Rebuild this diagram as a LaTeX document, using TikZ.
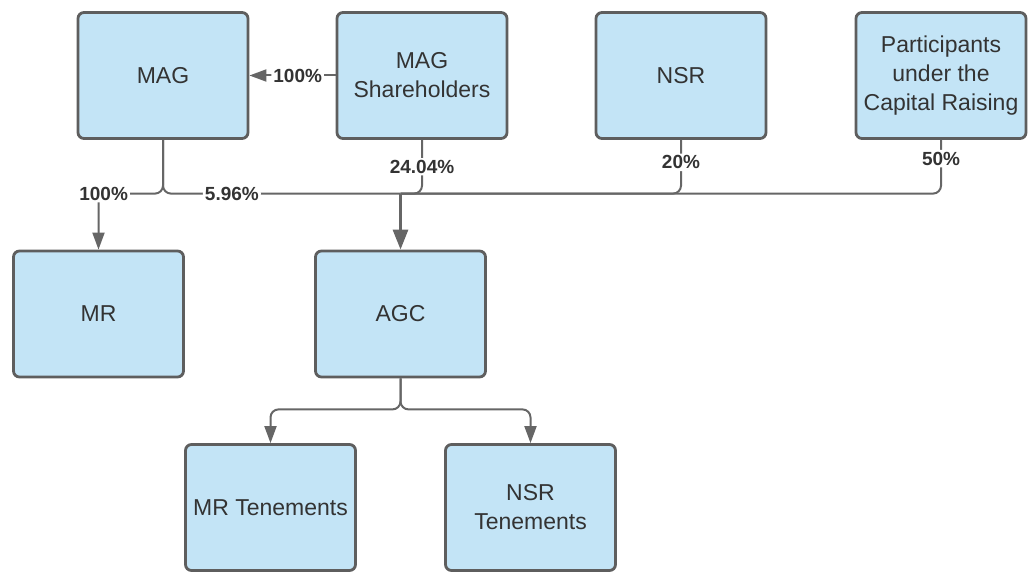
\documentclass[tikz,border=0pt]{standalone}
\usepackage{fontspec}
\setmainfont{Liberation Sans}
\usepackage{tikz}
\usetikzlibrary{arrows.meta, positioning}
\definecolor{boxfill}{HTML}{C3E4F6}
\definecolor{boxline}{HTML}{5E5E5E}
\definecolor{linkline}{HTML}{666666}
\definecolor{txt}{HTML}{333333}

\begin{document}
\begin{tikzpicture}[on grid,
    entity/.style={draw=boxline, fill=boxfill, line width=1.4pt, rounded corners=3pt,
      minimum width=85pt, minimum height=63pt, align=center, text=txt,
      font=\fontsize{11.5}{14.5}\selectfont},
    link/.style={draw=linkline, line width=1pt, rounded corners=4pt},
    tip/.style={-{Triangle[length=8.5pt,width=6pt]}},
    pct/.style={fill=white, inner sep=1pt, text=txt, font=\fontsize{9.5}{11}\selectfont\bfseries}]
      \useasboundingbox (0,0) rectangle (516pt,-286pt);

      \node[entity] (mag) at (81.5pt,-37.75pt) {MAG};
      \node[entity] (mag_sh) [right=129.5pt of mag] {MAG\\Shareholders};
      \node[entity] (nsr) [right=129.5pt of mag_sh] {NSR};
      \node[entity] (part) [right=130pt of nsr] {Participants\\under the\\Capital Raising};
      \node[entity] (mr) [below left=119.25pt and 32.25pt of mag] {MR};
      \node[entity] (agc) [right=151pt of mr] {AGC};
      \node[entity] (mr_t) [below left=96.75pt and 65pt of agc] {MR Tenements};
      \node[entity] (nsr_t) [right=130pt of mr_t] {NSR\\Tenements};

      \path (agc.north) ++(0,28pt) coordinate (hub);
      \path (agc.south) ++(0,-15.5pt) coordinate (fork);

      \draw[link, tip] (mag_sh.west) -- node[pct, pos=0.44] {100\%} (mag.east);
      \draw[link, tip] (mag.south) -- (mag.south |- hub) -| node[pct, pos=0.46] {100\%} (mr.north);
      \draw[link] (mag.south) -- (mag.south |- hub) -- node[pct, pos=0.29] {5.96\%} (hub);
      \draw[link] (mag_sh.south) -- node[pct] {24.04\%} (mag_sh.south |- hub) -- (hub);
      \draw[link] (nsr.south) -- node[pct, pos=0.42] {20\%} (nsr.south |- hub) -- (hub);
      \draw[link] (part.south) -- node[pct, pos=0.35] {50\%} (part.south |- hub) -- (hub);
      \draw[link, line width=1.5pt, -{Triangle[length=10pt,width=7.5pt]}] (hub) -- (agc.north);

      \draw[link, tip] (agc.south) -- (fork) -| (mr_t.north);
      \draw[link, tip] (agc.south) -- (fork) -| (nsr_t.north);
    \end{tikzpicture}
\end{document}
